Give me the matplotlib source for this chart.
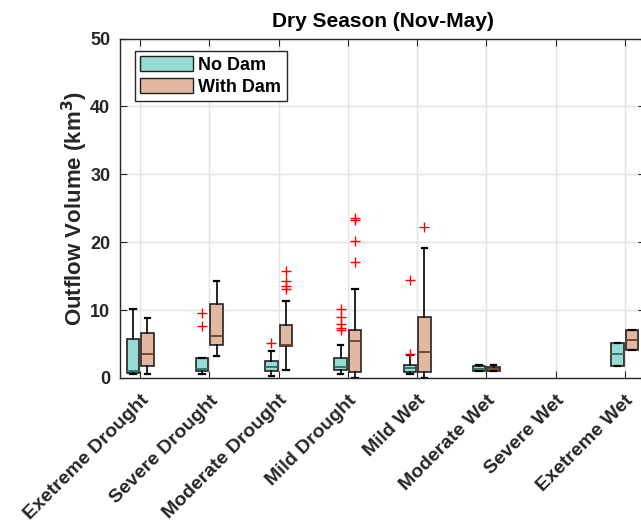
import matplotlib
matplotlib.use("Agg")
import matplotlib.pyplot as plt
from matplotlib.patches import Patch

plt.rcParams['font.family'] = ['Liberation Sans', 'DejaVu Sans']
plt.rcParams['font.weight'] = 'bold'

# Categories (tick labels)
categories = ['Exetreme Drought', 'Severe Drought', 'Moderate Drought', 'Mild Drought',
              'Mild Wet', 'Moderate Wet', 'Severe Wet', 'Exetreme Wet']

# Box statistics (km^3); None = no data
# order per entry: whislo, q1, med, q3, whishi
nodam_box = [
    [0.55, 0.69, 0.98, 5.7, 10.1],
    [0.63, 1.03, 1.28, 2.9, 2.9],
    [0.3, 0.98, 1.57, 2.46, 4.0],
    [0.59, 1.13, 1.67, 2.9, 4.87],
    [0.59, 0.89, 1.43, 1.87, 3.35],
    [1.03, 1.03, 1.35, 1.72, 1.87],
    None,
    [1.77, 1.77, 3.54, 5.2, 5.2],
]
nodam_fliers = [
    [],
    [9.5, 7.7],
    [5.1],
    [10.1, 8.95, 7.96, 7.33, 7.1],
    [3.5, 14.4],
    [],
    [],
    [],
]

withdam_box = [
    [0.64, 1.73, 3.6, 6.6, 8.8],
    [3.2, 4.8, 6.2, 10.9, 14.3],
    [1.18, 4.77, 4.8, 7.86, 11.4],
    [0.04, 0.84, 5.5, 7.0, 13.1],
    [0.05, 0.93, 3.83, 9.05, 19.1],
    [1.0, 1.0, 1.3, 1.65, 1.85],
    None,
    [4.13, 4.13, 5.65, 7.12, 7.12],
]
withdam_fliers = [
    [],
    [],
    [15.8, 14.3, 13.6, 13.1],
    [23.2, 23.5, 20.2, 17.1],
    [22.2],
    [],
    [],
    [],
]

nodam_color = '#98dbd2'
withdam_color = '#e3b8a0'


def make_stats(boxes, fliers):
    stats, pos = [], []
    for i, (b, f) in enumerate(zip(boxes, fliers)):
        if b is None:
            continue
        stats.append({'whislo': b[0], 'q1': b[1], 'med': b[2], 'q3': b[3],
                      'whishi': b[4], 'fliers': f})
        pos.append(i + 1)
    return stats, pos


fig = plt.figure(figsize=(6.41, 5.25), dpi=100)
ax = fig.add_axes([120 / 641, 147 / 525, 525 / 641, 339.5 / 525])

offset = 0.105
for boxes, fliers, color, med_color, sign in [
        (nodam_box, nodam_fliers, nodam_color, '#2f6f67', -1),
        (withdam_box, withdam_fliers, withdam_color, '#6e3f2a', 1)]:
    stats, pos = make_stats(boxes, fliers)
    ax.bxp(stats, positions=[p + sign * offset for p in pos], widths=0.18,
           patch_artist=True, capwidths=0.08, manage_ticks=False,
           boxprops=dict(facecolor=color, edgecolor='#222222', linewidth=1.2),
           medianprops=dict(color=med_color, linewidth=1.3),
           whiskerprops=dict(color='black', linewidth=1.2),
           capprops=dict(color='black', linewidth=1.6),
           flierprops=dict(marker='+', markeredgecolor='red', markersize=7,
                           markeredgewidth=1.0, linestyle='none'))

ax.set_xlim(0.711, 8.29)
ax.set_ylim(0, 50)
ax.set_xticks(range(1, len(categories) + 1))
ax.set_xticklabels(categories, rotation=45, ha='right', va='top',
                   rotation_mode='anchor', fontsize=14, fontweight='bold',
                   color='#262626')
ax.set_yticks([0, 10, 20, 30, 40, 50])
ax.tick_params(axis='y', labelsize=13, colors='#262626', direction='in',
               length=5, right=True, pad=7)
ax.tick_params(axis='x', colors='#262626', direction='in', length=5, top=True, pad=10)
for lab in ax.get_yticklabels():
    lab.set_fontweight('bold')
ax.grid(True, color='#e3e3e3', linewidth=1.0)
ax.set_axisbelow(True)
for s in ax.spines.values():
    s.set_color('#262626')
    s.set_linewidth(1.0)

ax.set_ylabel('Outflow Volume (km$^{3}$)', fontsize=16, fontweight='bold',
              color='#262626', labelpad=0)
ax.set_title('Dry Season (Nov-May)', fontsize=15, fontweight='bold', pad=8)

handles = [Patch(facecolor=nodam_color, edgecolor='#222222', label='No Dam'),
           Patch(facecolor=withdam_color, edgecolor='#222222', label='With Dam')]
leg = ax.legend(handles=handles, loc='upper left', fontsize=13, fancybox=False,
                edgecolor='#262626', framealpha=1, handlelength=2.9,
                handleheight=0.95, handletextpad=0.3, borderpad=0.3,
                labelspacing=0.2, borderaxespad=0,
                bbox_to_anchor=(15 / 525, 1 - 12 / 339.5))
leg.get_frame().set_linewidth(1.0)
for t in leg.get_texts():
    t.set_fontweight('bold')

fig.savefig('out.png', dpi=100)
